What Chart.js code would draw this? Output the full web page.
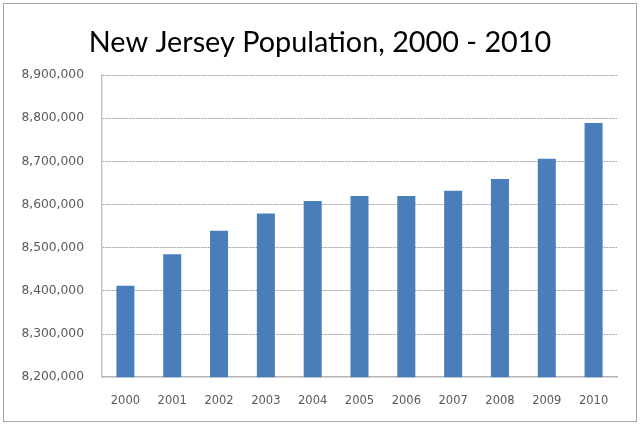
<!DOCTYPE html>
<html>
<head>
<meta charset="utf-8">
<script src="https://cdn.jsdelivr.net/npm/chart.js@4/dist/chart.umd.min.js"></script>
<style>
  html, body { margin: 0; padding: 0; background: #fff; }
  #wrap { width: 640px; height: 426px; position: relative; }
</style>
</head>
<body>
<div id="wrap"><canvas id="chart"></canvas></div>
<script>
// data
var years = ['2000', '2001', '2002', '2003', '2004', '2005', '2006', '2007', '2008', '2009', '2010'];
var population = [8412000, 8485000, 8539000, 8579000, 8608000, 8620000, 8620000, 8632000, 8659000, 8706000, 8789000];
var yMin = 8200000;
var yMax = 8900000;
var yStep = 100000;
var titleText = 'New Jersey Population, 2000 - 2010';

// grey frame round the picture and the title centred on the whole width
var framePlugin = {
  id: 'frame',
  afterDraw: function(chart){
    var ctx = chart.ctx;
    ctx.save();
    ctx.strokeStyle = '#a6a6a6';
    ctx.lineWidth = 1;
    ctx.strokeRect(3.5, 3.5, 633, 418);
    ctx.fillStyle = '#000';
    ctx.font = '28.8px Lato';
    ctx.textAlign = 'center';
    ctx.textBaseline = 'alphabetic';
    ctx.fillText(titleText, chart.width / 2, 52);
    ctx.restore();
  }
};

new Chart(document.getElementById('chart'), {
  type: 'bar',
  data: {
    labels: years,
    datasets: [{
      data: population,
      backgroundColor: '#4a7ebb',
      barPercentage: 0.385,
      categoryPercentage: 1
    }]
  },
  options: {
    responsive: true,
    maintainAspectRatio: false,
    animation: false,
    layout: { padding: { left: 4, right: 23, top: 75, bottom: 1 } },
    plugins: {
      legend: { display: false },
      tooltip: { enabled: false },
      title: { display: false }
    },
    scales: {
      x: {
        grid: { display: false, drawTicks: false },
        border: { display: true, color: '#b4b4b4', width: 1.5 },
        ticks: {
          color: '#595959',
          font: { family: 'DejaVu Sans', size: 11.5 },
          padding: 17,
          maxRotation: 0
        }
      },
      y: {
        min: yMin,
        max: yMax,
        afterFit: function(scale){ scale.width = 98; },
        grid: {
          drawTicks: false,
          color: function(c){ return c.index === 0 ? 'rgba(0,0,0,0)' : '#a0a0a0'; },
          lineWidth: 1
        },
        border: { display: true, color: '#c4c4c4', width: 1.5, dash: [2, 1] },
        ticks: {
          stepSize: yStep,
          color: '#595959',
          font: { family: 'DejaVu Sans', size: 12.3 },
          padding: 18,
          callback: function(v){ return v.toLocaleString('en-US'); }
        }
      }
    }
  },
  plugins: [framePlugin]
});
</script>
</body>
</html>
